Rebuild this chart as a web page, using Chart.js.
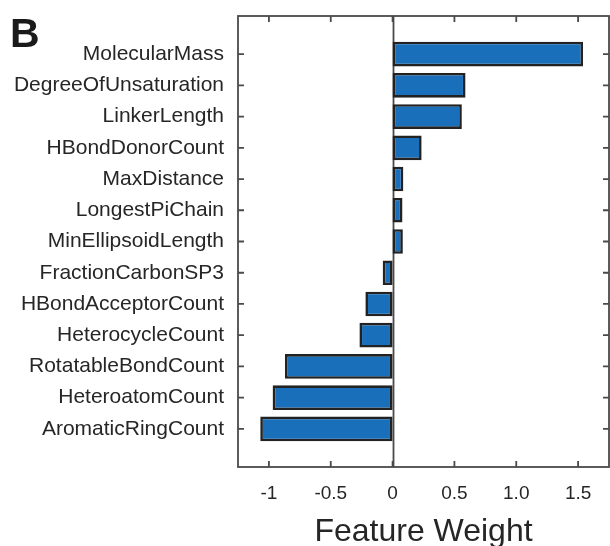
<!DOCTYPE html>
<html>
<head>
<meta charset="utf-8">
<script src="https://cdn.jsdelivr.net/npm/chart.js@4"></script>
<style>
  html, body { margin: 0; padding: 0; background: #fff; }
  #wrap { width: 610px; height: 546px; position: relative; }
</style>
</head>
<body>
<div id="wrap"><canvas id="c" width="610" height="546"></canvas></div>
<script>
// ---- data ----
const categories = [
  "MolecularMass", "DegreeOfUnsaturation", "LinkerLength", "HBondDonorCount",
  "MaxDistance", "LongestPiChain", "MinEllipsoidLength", "FractionCarbonSP3",
  "HBondAcceptorCount", "HeterocycleCount", "RotatableBondCount",
  "HeteroatomCount", "AromaticRingCount"
];
const weights = [1.54, 0.59, 0.56, 0.235, 0.087, 0.08, 0.083, -0.08,
  -0.22, -0.268, -0.87, -0.97, -1.07];
const xTickValues = [-1, -0.5, 0, 0.5, 1.0, 1.5];
const xTickLabels = ["-1", "-0.5", "0", "0.5", "1.0", "1.5"];
const panelLabel = "B";
const xTitle = "Feature Weight";

const AXIS = '#4a4a4a';
const TEXT = '#262626';

const boxPlugin = {
  id: 'boxPlugin',
  beforeDatasetsDraw(chart) {
    const ctx = chart.ctx, a = chart.chartArea, x = chart.scales.x;
    const px = Math.round(x.getPixelForValue(0)) + 0.5;
    ctx.save();
    ctx.strokeStyle = AXIS; ctx.lineWidth = 1.8;
    ctx.beginPath(); ctx.moveTo(px, a.top); ctx.lineTo(px, a.bottom); ctx.stroke();
    ctx.restore();
  },
  afterDraw(chart) {
    const ctx = chart.ctx, a = chart.chartArea, x = chart.scales.x, y = chart.scales.y;
    ctx.save();
    ctx.strokeStyle = AXIS; ctx.lineWidth = 1.8;
    ctx.strokeRect(a.left, a.top, a.right - a.left, a.bottom - a.top);
    const tl = 6;
    ctx.beginPath();
    xTickValues.forEach(v => {
      const p = x.getPixelForValue(v);
      ctx.moveTo(p, a.bottom); ctx.lineTo(p, a.bottom - tl);
      ctx.moveTo(p, a.top); ctx.lineTo(p, a.top + tl);
    });
    categories.forEach((c, i) => {
      const p = y.getPixelForValue(i + 1);
      ctx.moveTo(a.left, p); ctx.lineTo(a.left + tl, p);
      ctx.moveTo(a.right, p); ctx.lineTo(a.right - tl, p);
    });
    ctx.stroke();
    ctx.fillStyle = '#1a1a1a';
    ctx.font = 'bold 41px "Liberation Sans", Arial, sans-serif';
    ctx.textBaseline = 'alphabetic';
    ctx.textAlign = 'left';
    ctx.fillText(panelLabel, 10, 46.5);
    ctx.restore();
  }
};

new Chart(document.getElementById('c'), {
  type: 'bar',
  data: {
    datasets: [{
      data: weights.map((v, i) => ({ x: v, y: i + 1 })),
      backgroundColor: '#1a6fba',
      borderColor: '#222222',
      borderWidth: 2.6,
      borderSkipped: false,
      barPercentage: 0.79,
      categoryPercentage: 1.0
    }]
  },
  options: {
    indexAxis: 'y',
    responsive: false,
    animation: false,
    devicePixelRatio: 1,
    layout: { padding: { top: 16, right: 1, left: 0, bottom: 0 } },
    plugins: { legend: { display: false }, tooltip: { enabled: false } },
    scales: {
      x: {
        type: 'linear',
        position: 'bottom',
        bounds: 'data',
        offset: false,
        min: -1.25, max: 1.75,
        grid: { display: false, drawTicks: false, offset: false },
        border: { display: false },
        afterBuildTicks(s) { s.ticks = xTickValues.map(v => ({ value: v })); },
        afterFit(s) { s.height = 79; s.paddingLeft = 0; s.paddingRight = 0; },
        ticks: {
          padding: 15,
          color: TEXT,
          font: { family: '"Liberation Sans", Arial, sans-serif', size: 19 },
          callback(v) { const i = xTickValues.indexOf(v); return i >= 0 ? xTickLabels[i] : ''; },
          maxRotation: 0, autoSkip: false
        },
        title: {
          display: true, text: xTitle, color: TEXT,
          font: { family: '"Liberation Sans", Arial, sans-serif', size: 32, lineHeight: 1 },
          padding: { top: 0, bottom: -2 }
        }
      },
      y: {
        type: 'linear',
        position: 'left',
        reverse: true,
        bounds: 'data',
        offset: false,
        min: -0.22, max: 14.22,
        grid: { display: false, drawTicks: false, offset: false },
        border: { display: false },
        afterBuildTicks(s) { s.ticks = categories.map((c, i) => ({ value: i + 1 })); },
        afterFit(s) { s.width = 238; s.paddingTop = 0; s.paddingBottom = 0; },
        ticks: {
          padding: 14,
          color: TEXT,
          font: { family: '"Liberation Sans", Arial, sans-serif', size: 21 },
          callback(v) { return categories[v - 1] || ''; },
          autoSkip: false
        }
      }
    }
  },
  plugins: [boxPlugin]
});
</script>
</body>
</html>
